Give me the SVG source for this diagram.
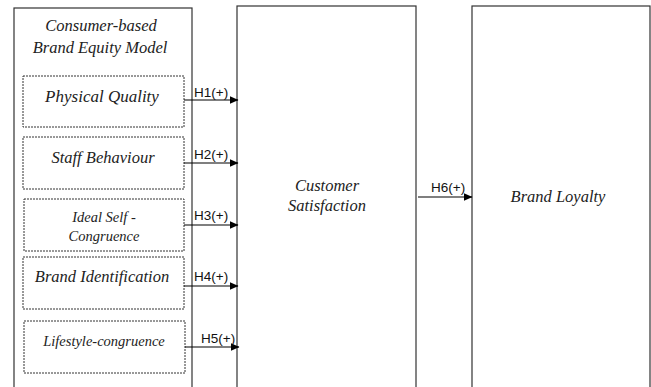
<svg xmlns="http://www.w3.org/2000/svg" width="651" height="387" viewBox="0 0 651 387">
<defs>
<marker id="ah" markerWidth="9" markerHeight="8" refX="8.5" refY="4" orient="auto" markerUnits="userSpaceOnUse">
<path d="M0,0 L9,4 L0,8 Z" fill="#000"/>
</marker>
<style>
.box{fill:#fff;stroke:#333;stroke-width:1.2}
.dash{fill:#fff;stroke:#333;stroke-width:1;stroke-dasharray:2,1}
.t{font-family:"Liberation Serif","DejaVu Serif",serif;font-style:italic;fill:#222;text-anchor:middle}
.lbl{font-family:"Liberation Sans",Arial,sans-serif;font-size:13.5px;fill:#111}
.c{stroke:#000;stroke-width:1.2;fill:none;marker-end:url(#ah)}
</style>
</defs>
<rect width="651" height="387" fill="#fff"/>
<g id="cbbe">
<rect class="box" x="14" y="8" width="178" height="390"/>
<text class="t" x="101" y="31" font-size="16.5">Consumer-based</text>
<text class="t" x="100" y="53" font-size="16.5">Brand Equity Model</text>
</g>
<g id="physical">
<rect class="dash" x="23" y="76" width="161" height="51"/>
<text class="t" x="102" y="102" font-size="17">Physical Quality</text>
</g>
<g id="staff">
<rect class="dash" x="23" y="137" width="161" height="52"/>
<text class="t" x="103" y="163" font-size="16.5">Staff Behaviour</text>
</g>
<g id="ideal">
<rect class="dash" x="24" y="199" width="160" height="52"/>
<text class="t" x="104" y="222" font-size="14.5">Ideal Self -</text>
<text class="t" x="104" y="241" font-size="14.5">Congruence</text>
</g>
<g id="brandid">
<rect class="dash" x="23" y="257" width="161" height="52"/>
<text class="t" x="102" y="282" font-size="16.5">Brand Identification</text>
</g>
<g id="lifestyle">
<rect class="dash" x="24" y="321" width="161" height="52"/>
<text class="t" x="104" y="346" font-size="14.5">Lifestyle-congruence</text>
</g>
<g id="satisfaction">
<rect class="box" x="237" y="6" width="179" height="392"/>
<text class="t" x="327" y="191" font-size="16.5">Customer</text>
<text class="t" x="327" y="211" font-size="16.5">Satisfaction</text>
</g>
<g id="loyalty">
<rect class="box" x="472" y="6" width="178" height="392"/>
<text class="t" x="558" y="202" font-size="16.5">Brand Loyalty</text>
</g>
<g id="connectors">
<line class="c" x1="184" y1="100" x2="238" y2="100"/>
<line class="c" x1="184" y1="163" x2="238" y2="163"/>
<line class="c" x1="184" y1="225" x2="238" y2="225"/>
<line class="c" x1="184" y1="286" x2="238" y2="286"/>
<line class="c" x1="185" y1="347" x2="239" y2="347"/>
<line class="c" x1="418" y1="197" x2="472" y2="197"/>
<text class="lbl" x="194" y="97">H1(+)</text>
<text class="lbl" x="194" y="159">H2(+)</text>
<text class="lbl" x="194" y="220">H3(+)</text>
<text class="lbl" x="194" y="281">H4(+)</text>
<text class="lbl" x="201" y="343">H5(+)</text>
<text class="lbl" x="431" y="192">H6(+)</text>
</g>
</svg>
